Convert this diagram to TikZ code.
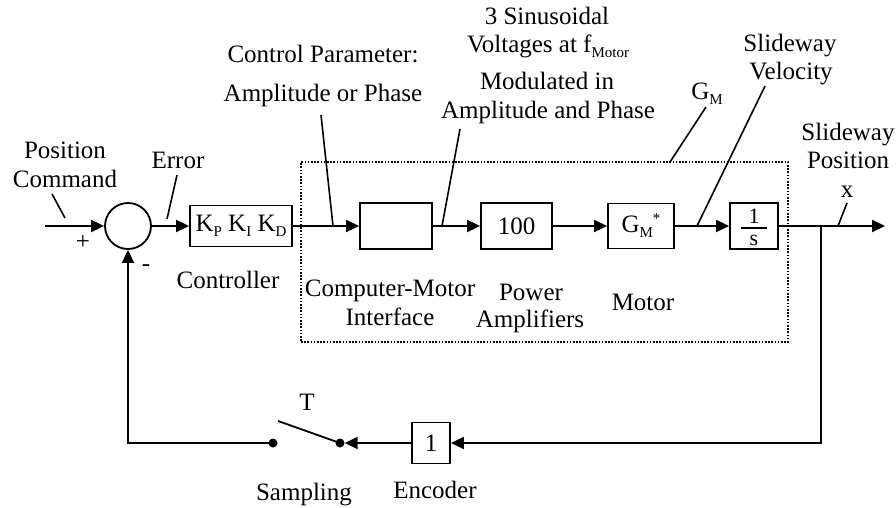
\documentclass[tikz,border=0pt]{standalone}
\usepackage{fontspec}
\setmainfont{Liberation Serif}
\usetikzlibrary{arrows.meta}
\newcommand\mysb[1]{\raisebox{-5pt}{\fontsize{15}{15}\selectfont #1}}
\newcommand\mysp[1]{\raisebox{9pt}{\fontsize{15}{15}\selectfont #1}}
\begin{document}
\begin{tikzpicture}[x=1pt,y=-1pt,
  every node/.style={font=\fontsize{25}{29}\selectfont, inner sep=0pt},
  blk/.style={draw, line width=1.8pt, inner sep=0pt},
  wire/.style={line width=1.8pt},
  arr/.style={wire, -{Triangle[length=13pt,width=12pt]}},
  lead/.style={line width=1.6pt},
  lbl/.style={anchor=base},
  dot/.style={circle, fill, minimum size=9pt},
]
\useasboundingbox (0,0) rectangle (896,508);
% blocks
\node[draw, circle, line width=1.8pt, minimum size=46pt] (sum) at (128,226) {};
\node[blk, minimum width=102pt, minimum height=41pt] (pid) at (241,226) {K\mysb{P} K\mysb{I} K\mysb{D}};
\node[blk, minimum width=72pt, minimum height=46pt] (cmi) at (396,226) {};
\node[blk, minimum width=71pt, minimum height=46pt] (amp) at (516.5,226) {100};
\node[blk, minimum width=66pt, minimum height=45pt] (mot) at (641,226) {G\mysb{M}\mysp{*}};
\node[blk, minimum width=48pt, minimum height=46pt] (integ) at (754,226) {};
\node[lbl, font=\fontsize{22}{22}\selectfont] (one) at (754,223) {1};
\node[lbl, font=\fontsize{22}{22}\selectfont] (ess) at (754,245) {s};
\coordinate (fracL) at (741,228);
\coordinate (fracR) at (767,228);
\draw[line width=1.3pt] (fracL) -- (fracR);
\node[blk, minimum width=38pt, minimum height=41pt] (enc) at (431,443) {1};
\node[draw, line width=1.6pt, dash pattern=on 1.6pt off 1.6pt, minimum width=487pt, minimum height=180pt] (gm) at (544.5,252) {};
% switch
\node[dot] (swL) at (273,443) {};
\node[dot] (swR) at (340,443) {};
\coordinate (swlev) at (278,421);
\draw[wire] (swlev) -- (swR.center);
% connectors
\coordinate (in) at (45,226);
\coordinate (out) at (885,226);
\coordinate (br) at (821,226);
\coordinate (bc) at (821,443);
\coordinate (fbc) at (128,443);
\draw[arr] (in) -- (sum.west);
\draw[arr] (sum.east) -- (pid.west);
\draw[arr] (pid.east) -- (cmi.west);
\draw[arr] (cmi.east) -- (amp.west);
\draw[arr] (amp.east) -- (mot.west);
\draw[arr] (mot.east) -- (integ.west);
\draw[arr] (integ.east) -- (out);
\draw[arr] (br) -- (bc) -- (enc.east);
\draw[arr] (enc.west) -- (swR.east);
\draw[arr] (swL.center) -- (fbc) -- (sum.south);
% leaders
\coordinate (l1a) at (52,194);  \coordinate (l1b) at (65,218);
\coordinate (l2a) at (167,219); \coordinate (l2b) at (177,175);
\coordinate (l3a) at (333,226); \coordinate (l3b) at (321,115);
\coordinate (l4a) at (442,226); \coordinate (l4b) at (460,129);
\coordinate (l5a) at (670,162); \coordinate (l5b) at (706,107);
\coordinate (l6a) at (697,226); \coordinate (l6b) at (765,86);
\coordinate (l7a) at (838,226); \coordinate (l7b) at (847,203);
\draw[lead] (l1a) -- (l1b);
\draw[lead] (l2a) -- (l2b);
\draw[lead] (l3a) -- (l3b);
\draw[lead] (l4a) -- (l4b);
\draw[lead] (l5a) -- (l5b);
\draw[lead] (l6a) -- (l6b);
\draw[lead] (l7a) -- (l7b);
% labels
\node[lbl] (pc1) at (65,158) {Position};
\node[lbl] (pc2) at (65,187) {Command};
\node (plus) at (83,242) {+};
\node (minus) at (146,268) {-};
\node[lbl] (err) at (178,168) {Error};
\node[lbl] (ctl) at (228,288) {Controller};
\node[lbl] (cp1) at (323,63) {Control Parameter:};
\node[lbl] (cp2) at (323,102) {Amplitude or Phase};
\node[lbl] (sv1) at (547,25) {3 Sinusoidal};
\node[lbl] (sv2) at (548,53) {Voltages at f\mysb{Motor}};
\node[lbl] (sv3) at (547,90) {Modulated in};
\node[lbl] (sv4) at (548,118) {Amplitude and Phase};
\node[lbl] (gml) at (707,100) {G\mysb{M}};
\node[lbl] (vel1) at (790,52) {Slideway};
\node[lbl] (vel2) at (791,80) {Velocity};
\node[lbl] (pos1) at (848,140) {Slideway};
\node[lbl] (pos2) at (848,168) {Position};
\node[lbl] (xl) at (847,197) {x};
\node[lbl] (cm1) at (390,296) {Computer-Motor};
\node[lbl] (cm2) at (390,325) {Interface};
\node[lbl] (pa1) at (531,300) {Power};
\node[lbl] (pa2) at (530,327) {Amplifiers};
\node[lbl] (motl) at (643,310) {Motor};
\node[lbl] (tl) at (307,410) {T};
\node[lbl] (samp) at (304,500) {Sampling};
\node[lbl] (encl) at (435,498) {Encoder};
\end{tikzpicture}
\end{document}
